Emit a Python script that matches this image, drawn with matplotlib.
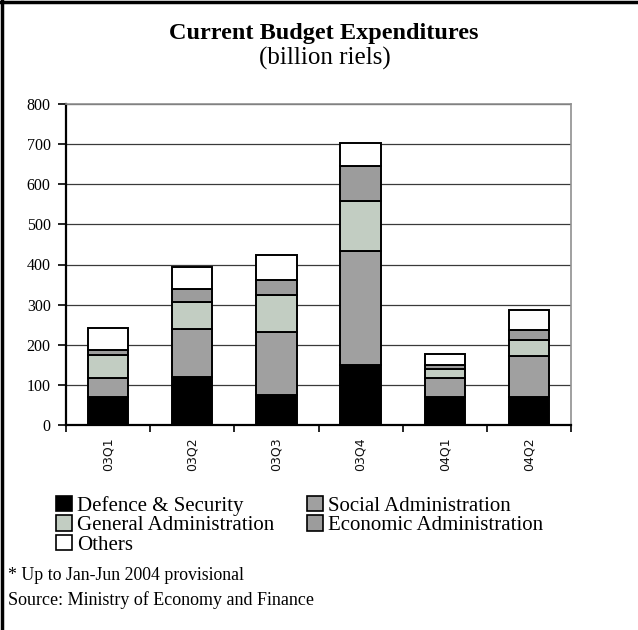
import matplotlib
matplotlib.use("Agg")
import matplotlib.pyplot as plt
import numpy as np
from matplotlib.patches import Patch

categories = ["03Q1", "03Q2", "03Q3", "03Q4", "04Q1", "04Q2"]
defence = [71, 120, 76, 149, 70, 69]
social = [47, 120, 157, 285, 46, 102]
general = [57, 67, 91, 124, 23, 42]
economic = [12, 33, 38, 87, 11, 25]
others = [54, 53, 61, 58, 27, 49]
series_names = ["Defence & Security", "Social Administration", "General Administration",
                "Economic Administration", "Others"]
y_ticks = [0, 100, 200, 300, 400, 500, 600, 700, 800]

colors = ["#000000", "#a0a0a0", "#c2cdc2", "#9c9c9c", "#ffffff"]
serif = ["Liberation Serif", "DejaVu Serif"]

fig = plt.figure(figsize=(6.38, 6.30), dpi=100)
ax = fig.add_axes([66/638, 1-425/630, (571-66)/638, (425-104)/630])

x = np.arange(len(categories)) + 0.5
data = [defence, social, general, economic, others]
bottom = np.zeros(len(categories))
handles = []
for vals, c, name in zip(data, colors, series_names):
    ax.bar(x, vals, width=0.48, bottom=bottom, color=c, edgecolor="black",
           linewidth=1.4, zorder=3)
    bottom += np.array(vals)
    handles.append(Patch(facecolor=c, edgecolor="black", linewidth=1.2, label=name))

ax.set_xlim(0, len(categories))
ax.set_ylim(0, 800)
ax.set_yticks(y_ticks)
ax.set_yticklabels([str(v) for v in y_ticks], fontfamily=serif, fontsize=11.5)
ax.yaxis.grid(True, color="#3a3a3a", linewidth=0.9, zorder=0)
ax.set_axisbelow(True)

ax.set_xticks(np.arange(len(categories) + 1))
ax.set_xticklabels([])
ax.set_xticks(x, minor=True)
ax.set_xticklabels(categories, minor=True, rotation=90, fontsize=9,
                   fontfamily="DejaVu Sans", color="#111111")
ax.tick_params(axis="x", which="major", direction="out", length=5, width=1.2)
ax.tick_params(axis="x", which="minor", length=0, pad=9)
ax.tick_params(axis="y", direction="out", length=6, width=1.2, pad=5)

for s in ["left", "bottom"]:
    ax.spines[s].set_color("black")
    ax.spines[s].set_linewidth(1.6)
for s in ["top", "right"]:
    ax.spines[s].set_color("#909090")
    ax.spines[s].set_linewidth(1.2)

fig.text(324/638, 1-33/630, "Current Budget Expenditures", ha="center", va="center",
         fontfamily=serif, fontweight="bold", fontsize=17.5)
fig.text(325/638, 1-58/630, "(billion riels)", ha="center", va="center",
         fontfamily=serif, fontsize=18)

order = [handles[0], handles[2], handles[4], handles[1], handles[3]]
leg = fig.legend(handles=order, labels=[h.get_label() for h in order], ncol=2,
                 loc="upper left", bbox_to_anchor=(56/638, 1-496/630),
                 frameon=False, prop={"family": serif, "size": 15},
                 handlelength=0.75, handleheight=0.75, handletextpad=0.25,
                 labelspacing=-0.02, columnspacing=1.6, borderpad=0, borderaxespad=0)

fig.text(8/638, 1-575/630, "* Up to Jan-Jun 2004 provisional", ha="left", va="center",
         fontfamily=serif, fontsize=12.8)
fig.text(8/638, 1-600/630, "Source: Ministry of Economy and Finance", ha="left", va="center",
         fontfamily=serif, fontsize=13)

# outer black frame edges (top and left)
fig.add_artist(plt.Line2D([0, 1], [1-1.5/630, 1-1.5/630], color="black", linewidth=2.5,
                          transform=fig.transFigure))
fig.add_artist(plt.Line2D([1.5/638, 1.5/638], [0, 1], color="black", linewidth=2.5,
                          transform=fig.transFigure))

fig.savefig("out.png", dpi=100)
